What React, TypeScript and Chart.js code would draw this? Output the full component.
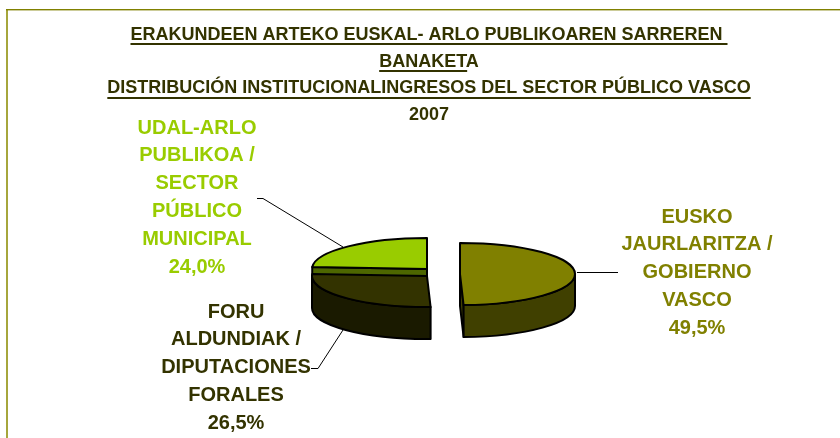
import React, { useEffect, useRef } from "react";
import { Chart, registerables } from "chart.js";

Chart.register(...registerables);

const categories = ["EUSKO JAURLARITZA / GOBIERNO VASCO", "FORU ALDUNDIAK / DIPUTACIONES FORALES", "UDAL-ARLO PUBLIKOA / SECTOR PÚBLICO MUNICIPAL"];
const shares = [49.5, 26.5, 24.0];
const labelLines = [
  ["EUSKO", "JAURLARITZA /", "GOBIERNO", "VASCO"],
  ["FORU", "ALDUNDIAK /", "DIPUTACIONES", "FORALES"],
  ["UDAL-ARLO", "PUBLIKOA /", "SECTOR", "PÚBLICO", "MUNICIPAL"],
];
const titleLines = [
  "ERAKUNDEEN ARTEKO EUSKAL- ARLO PUBLIKOAREN SARREREN ",
  "BANAKETA",
  "DISTRIBUCIÓN INSTITUCIONALINGRESOS DEL SECTOR PÚBLICO VASCO",
  "2007",
];
const underlined = [
  "ERAKUNDEEN ARTEKO EUSKAL- ARLO PUBLIKOAREN SARREREN ",
  "BANAKET",
  "DISTRIBUCIÓN INSTITUCIONALINGRESOS DEL SECTOR PÚBLICO VASCO",
];
const topColors = ["#808000", "#333300", "#99cc00"];
const sideColors = ["#404000", "#1a1a00", "#4d6600"];
const labelColors = ["#808000", "#333300", "#99cc00"];

const FONT = '"Liberation Sans", Arial, sans-serif';
const TITLE_SIZE = 18;
const LABEL_SIZE = 20;
const TITLE_STEP = 26.5;
const UNDERLINE_TOP = 43;
const UNDERLINE_STEP = 27;
const RADIUS = 115;
const SQUASH = 0.27;
const DEPTH = 32;
const sliceCentres = [
  { x: 460, y: 274 },
  { x: 427, y: 276 },
  { x: 427, y: 269 },
];
const labelPlaces = [
  { x: 697, y: 217 },
  { x: 236, y: 312 },
  { x: 197, y: 128 },
];
const LABEL_STEP = 27.9;
const leaders = [
  [[577, 272.5], [618, 272.5]],
  [[343, 330], [318, 368.5], [311, 368.5]],
  [[343, 247], [263, 198.5], [257, 198.5]],
];

const piePlugin = {
  id: "pie3d",
  beforeDatasetDraw(chart: any) {
    const ctx = chart.ctx as CanvasRenderingContext2D;
    const arcs = chart.getDatasetMeta(0).data;
    const px = (a: number, c: any) => c.x + RADIUS * Math.cos(a);
    const py = (a: number, c: any) => c.y + RADIUS * SQUASH * Math.sin(a);
    const outline = () => {
      ctx.lineWidth = 2;
      ctx.strokeStyle = "#000";
      ctx.lineJoin = "round";
      ctx.stroke();
    };
    const wall = (a: number, c: any, color: string) => {
      ctx.beginPath();
      ctx.moveTo(c.x, c.y);
      ctx.lineTo(px(a, c), py(a, c));
      ctx.lineTo(px(a, c), py(a, c) + DEPTH);
      ctx.lineTo(c.x, c.y + DEPTH);
      ctx.closePath();
      ctx.fillStyle = color;
      ctx.fill();
      outline();
    };
    const rim = (from: number, to: number, c: any, color: string) => {
      const a0 = Math.max(from, 0);
      const a1 = Math.min(to, Math.PI);
      if (a1 <= a0) return;
      ctx.beginPath();
      ctx.ellipse(c.x, c.y, RADIUS, RADIUS * SQUASH, 0, a0, a1);
      ctx.ellipse(c.x, c.y + DEPTH, RADIUS, RADIUS * SQUASH, 0, a1, a0, true);
      ctx.closePath();
      ctx.fillStyle = color;
      ctx.fill();
      outline();
    };
    const top = (arc: any, c: any) => {
      ctx.save();
      ctx.translate(c.x, c.y);
      ctx.scale(1, SQUASH);
      ctx.translate(-arc.x, -arc.y);
      arc.draw(ctx);
      ctx.restore();
      ctx.beginPath();
      ctx.moveTo(c.x, c.y);
      ctx.ellipse(c.x, c.y, RADIUS, RADIUS * SQUASH, 0, arc.startAngle, arc.endAngle);
      ctx.closePath();
      outline();
    };
    // back-to-front: municipal slice, then the foral slice, then the Basque Government slice
    [2, 1, 0].forEach((i) => {
      const arc = arcs[i];
      const c = sliceCentres[i];
      const side = sideColors[i];
      if (i === 2) wall(arc.startAngle, c, side);
      if (i === 0) wall(arc.endAngle, c, side);
      const s = arc.startAngle;
      const e = arc.endAngle;
      rim(s, e, c, side);
      rim(s - 2 * Math.PI, e - 2 * Math.PI, c, side);
      top(arc, c);
    });
    return false;
  },
  afterDraw(chart: any) {
    const ctx = chart.ctx as CanvasRenderingContext2D;
    ctx.save();
    // frame
    ctx.fillStyle = "#a6a63c";
    ctx.fillRect(6, 9, 2, 429);
    ctx.fillStyle = "#808000";
    ctx.fillRect(6, 9, 834, 1.4);

    // title underlines
    const block = chart.titleBlock;
    ctx.font = `bold ${TITLE_SIZE}px ${FONT}`;
    ctx.fillStyle = "#333300";
    const cx = (block.left + block.right) / 2;
    underlined.forEach((t, i) => {
      const full = ctx.measureText(titleLines[i]).width;
      const w = ctx.measureText(t).width;
      ctx.fillRect(cx - full / 2, UNDERLINE_TOP + UNDERLINE_STEP * i, w, 2);
    });

    // leaders
    ctx.strokeStyle = "#000";
    ctx.lineWidth = 1;
    leaders.forEach((pts) => {
      ctx.beginPath();
      pts.forEach((p, i) => (i ? ctx.lineTo(p[0], p[1]) : ctx.moveTo(p[0], p[1])));
      ctx.stroke();
    });

    // data labels
    ctx.font = `bold ${LABEL_SIZE}px ${FONT}`;
    ctx.textAlign = "center";
    ctx.textBaseline = "middle";
    shares.forEach((v, i) => {
      const lines = [...labelLines[i], v.toFixed(1).replace(".", ",") + "%"];
      ctx.fillStyle = labelColors[i];
      lines.forEach((l, j) => ctx.fillText(l, labelPlaces[i].x, labelPlaces[i].y + j * LABEL_STEP));
    });
    ctx.restore();
  },
};

export default function App() {
  const ref = useRef<HTMLCanvasElement>(null);
  useEffect(() => {
    document.body.style.margin = "0";
    document.body.style.background = "#fff";
    const chart = new Chart(ref.current!, {
      type: "pie",
      data: {
        labels: categories,
        datasets: [
          {
            data: shares,
            backgroundColor: topColors,
            borderWidth: 0,
            radius: RADIUS,
          } as any,
        ],
      },
      options: {
        responsive: false,
        animation: false,
        layout: { padding: { left: 18, top: 10 } },
        plugins: {
          legend: { display: false },
          tooltip: { enabled: false },
          title: {
            display: true,
            text: titleLines,
            color: "#333300",
            align: "center",
            padding: { top: 12, bottom: 0 },
            font: { family: FONT, weight: "bold", size: TITLE_SIZE, lineHeight: `${TITLE_STEP}px` },
          },
        },
      },
      plugins: [piePlugin],
    } as any);
    return () => chart.destroy();
  }, []);
  return <canvas ref={ref} width={840} height={438} style={{ display: "block" }} />;
}
